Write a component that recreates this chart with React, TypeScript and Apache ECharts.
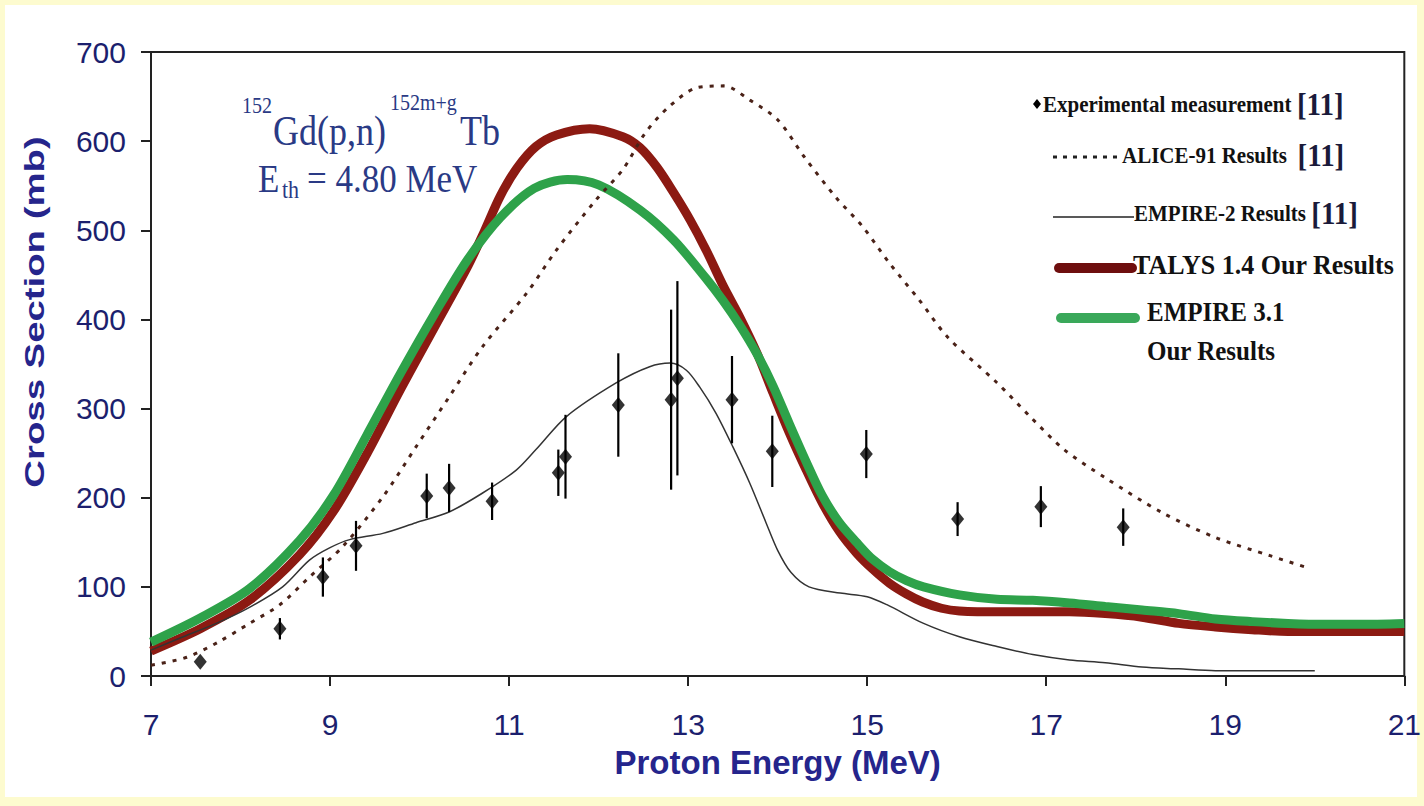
import React, { useEffect, useRef } from "react";
import * as echarts from "echarts";

// ---- axis settings ----
const xMin = 7;
const xMax = 21;
const xStep = 2;
const yMin = 0;
const yMax = 700;
const yStep = 100;

// ---- experimental measurement [11] ----
const expEnergy = [7.55, 8.44, 8.92, 9.29, 10.08, 10.33, 10.81, 11.55, 11.63, 12.22, 12.81, 12.88, 13.49, 13.94, 14.99, 16.01, 16.94, 17.86];
const expSigma = [16, 53, 111, 146, 202, 211, 196, 228, 246, 304, 310, 334, 310, 252, 249, 176, 190, 167];
const expError = [0, 12, 22, 28, 25, 27, 21, 26, 47, 58, 101, 109, 49, 40, 27, 19, 23, 21];

// ---- ALICE-91 results [11] ----
const aliceCurve: [number, number][] = [
  [7.0, 12], [7.4, 21], [7.75, 38], [8.1, 59], [8.44, 80], [8.77, 111], [9.14, 145], [9.59, 201],
  [9.96, 257], [10.33, 313], [10.7, 369], [11.2, 430], [11.53, 478], [11.97, 534], [12.27, 568],
  [12.52, 609], [12.78, 638], [13.1, 660], [13.4, 662], [13.69, 646], [14.0, 624], [14.3, 582],
  [14.65, 537], [14.95, 504], [15.25, 463], [15.58, 422], [15.9, 380], [16.45, 329], [16.82, 291],
  [17.2, 254], [17.65, 223], [18.3, 183], [18.9, 155], [19.5, 135], [19.9, 122],
];

// ---- EMPIRE-2 results [11] ----
const empire2Curve: [number, number][] = [
  [7.0, 29], [7.36, 44], [7.73, 59], [8.1, 77], [8.47, 100], [8.77, 130], [9.0, 144], [9.22, 153],
  [9.59, 160], [9.96, 172], [10.33, 184], [10.7, 205], [11.08, 231], [11.3, 254], [11.64, 291],
  [12.2, 329], [12.57, 347], [12.8, 351], [12.98, 343], [13.13, 324], [13.31, 295], [13.5, 257],
  [13.69, 216], [13.87, 172], [14.0, 141], [14.15, 116], [14.35, 100], [14.7, 93], [15.0, 89],
  [15.22, 80], [15.63, 59], [16.03, 44], [16.45, 33], [16.85, 24], [17.26, 18], [17.66, 15],
  [18.07, 10], [18.48, 8], [18.89, 6], [20.0, 6],
];

// ---- TALYS 1.4 (our results) ----
const talysCurve: [number, number][] = [
  [7.0, 28], [7.55, 53], [8.1, 85], [8.66, 136], [9.04, 185], [9.41, 249], [9.79, 322], [10.16, 390],
  [10.53, 458], [10.72, 498], [10.9, 538], [11.09, 570], [11.3, 594], [11.53, 607], [11.9, 614],
  [12.27, 605], [12.46, 593], [12.65, 571], [12.84, 542], [13.02, 512], [13.2, 478], [13.39, 438],
  [13.58, 402], [13.77, 362], [13.95, 317], [14.13, 273], [14.32, 231], [14.5, 194], [14.69, 162],
  [14.88, 138], [15.06, 120], [15.25, 104], [15.44, 92], [15.62, 83], [15.83, 76], [16.03, 73],
  [16.5, 72], [17.26, 72], [17.66, 70], [18.07, 66], [18.48, 59], [18.89, 55], [19.3, 52],
  [19.7, 50], [20.5, 50], [21.0, 50],
];

// ---- EMPIRE 3.1 (our results) ----
const empire31Curve: [number, number][] = [
  [7.0, 38], [7.55, 65], [8.1, 98], [8.66, 152], [9.04, 203], [9.41, 270], [9.79, 340], [10.16, 405],
  [10.53, 466], [10.9, 514], [11.28, 547], [11.65, 557], [12.0, 551], [12.46, 523], [12.84, 489],
  [13.2, 446], [13.39, 421], [13.58, 393], [13.77, 361], [13.95, 325], [14.13, 283], [14.32, 240],
  [14.5, 202], [14.69, 172], [14.88, 150], [15.06, 131], [15.25, 117], [15.44, 107], [15.63, 100],
  [16.03, 91], [16.45, 86], [16.85, 85], [17.26, 82], [17.66, 78], [18.07, 74], [18.48, 70],
  [18.89, 64], [19.3, 61], [19.7, 59], [20.1, 58], [20.5, 58], [21.0, 59],
];

const NAVY = "#1c1f6e";
const TITLE_NAVY = "#25258c";
const ANNOT = "#2a3a85";
const RED = "#8c1a12";
const GREEN = "#2ea24a";
const SERIF = "'Liberation Serif', 'Times New Roman', serif";
const SANS = "'Liberation Sans', Arial, sans-serif";

export default function App() {
  const ref = useRef<HTMLDivElement>(null);

  useEffect(() => {
    document.body.style.margin = "0";
    if (!ref.current) return;
    const chart = echarts.init(ref.current, undefined, { renderer: "svg" });

    const expData = expEnergy.map((e, i) => [e, expSigma[i]]);
    const errData = expEnergy.map((e, i) => [e, expSigma[i], expError[i]]);

    const legendText = (x: number, y: number, parts: string, fontSize: number, sy: number) => ({
      type: "text",
      x,
      y,
      scaleY: sy,
      silent: true,
      style: {
        text: parts,
        textVerticalAlign: "middle",
        textAlign: "left",
        fill: "#111",
        rich: {
          a: { fontFamily: SERIF, fontWeight: "bold", fontSize, fill: "#111" },
          b: { fontFamily: SERIF, fontWeight: "bold", fontSize: 29, fill: "#1a1a3a" },
        },
      },
    });

    const annot = (x: number, y: number, text: string, size: number) => ({
      type: "text",
      x,
      y,
      scaleY: 1.15,
      silent: true,
      style: { text, font: `${size}px ${SERIF}`, fill: ANNOT, textVerticalAlign: "middle", textAlign: "left" },
    });

    const option: any = {
      animation: false,
      backgroundColor: "transparent",
      grid: {
        left: 151,
        right: 19,
        top: 52,
        bottom: 130,
        show: true,
        borderColor: "#222",
        borderWidth: 2,
        backgroundColor: "transparent",
      },
      xAxis: {
        type: "value",
        min: xMin,
        max: xMax,
        interval: xStep,
        name: "Proton Energy (MeV)",
        nameLocation: "middle",
        nameGap: 70,
        nameTextStyle: { fontFamily: SANS, fontWeight: "bold", fontSize: 33, color: TITLE_NAVY },
        axisLine: { show: true, onZero: false, lineStyle: { color: "#222", width: 2 } },
        axisTick: { show: true, inside: false, length: 10, lineStyle: { color: "#222", width: 2 } },
        axisLabel: { fontFamily: SANS, fontSize: 30, color: NAVY, margin: 33 },
        splitLine: { show: false },
      },
      yAxis: {
        type: "value",
        min: yMin,
        max: yMax,
        interval: yStep,
        axisLine: { show: true, onZero: false, lineStyle: { color: "#222", width: 2 } },
        axisTick: { show: true, inside: false, length: 10, lineStyle: { color: "#222", width: 2 } },
        axisLabel: { fontFamily: SANS, fontSize: 30, color: NAVY, margin: 25 },
        splitLine: { show: false },
      },
      series: [
        {
          name: "TALYS 1.4 Our Results",
          type: "line",
          data: talysCurve,
          smooth: 0.3,
          showSymbol: false,
          lineStyle: { color: RED, width: 9 },
          z: 2,
        },
        {
          name: "EMPIRE 3.1 Our Results",
          type: "line",
          data: empire31Curve,
          smooth: 0.3,
          showSymbol: false,
          lineStyle: { color: GREEN, width: 9 },
          z: 3,
        },
        {
          name: "ALICE-91 Results [11]",
          type: "line",
          data: aliceCurve,
          smooth: 0.3,
          showSymbol: false,
          lineStyle: { color: "#4a2218", width: 3, type: [4, 7] },
          z: 4,
        },
        {
          name: "EMPIRE-2 Results [11]",
          type: "line",
          data: empire2Curve,
          smooth: 0.3,
          showSymbol: false,
          lineStyle: { color: "#333", width: 1.5 },
          z: 5,
        },
        {
          name: "error",
          type: "custom",
          data: errData,
          z: 6,
          renderItem: (params: any, api: any) => {
            const x = api.value(0);
            const y = api.value(1);
            const e = api.value(2);
            const p1 = api.coord([x, y - e]);
            const p2 = api.coord([x, y + e]);
            return {
              type: "line",
              shape: { x1: p1[0], y1: p1[1], x2: p2[0], y2: p2[1] },
              style: { stroke: "#000", lineWidth: 2.2 },
            };
          },
        },
        {
          name: "Experimental measurement [11]",
          type: "scatter",
          data: expData,
          symbol: "diamond",
          symbolSize: [13, 16],
          itemStyle: { color: "#000" },
          z: 7,
        },
      ],
      graphic: [
        // y-axis title
        {
          type: "text",
          x: 35,
          y: 312,
          rotation: Math.PI / 2,
          scaleX: 1.42,
          silent: true,
          style: {
            text: "Cross Section (mb)",
            font: `bold 27px ${SANS}`,
            fill: TITLE_NAVY,
            textAlign: "center",
            textVerticalAlign: "middle",
          },
        },
        // reaction annotation
        annot(242, 106, "152", 20),
        annot(273, 131, "Gd(p,n)", 36),
        annot(390, 103, "152m+g", 20),
        annot(460, 131, "Tb", 36),
        annot(258, 178, "E", 35),
        annot(282, 189, "th", 22),
        annot(307, 178, "= 4.80 MeV", 35),
        // legend
        {
          type: "polygon",
          silent: true,
          shape: { points: [[1037, 99], [1041, 104], [1037, 109], [1033, 104]] },
          style: { fill: "#000" },
        },
        legendText(1043, 104, "{a|Experimental measurement }{b|[11]}", 21, 1.12),
        {
          type: "line",
          silent: true,
          shape: { x1: 1053, y1: 157, x2: 1121, y2: 157 },
          style: { stroke: "#222", lineWidth: 3, lineDash: [4, 6] },
        },
        legendText(1122, 155, "{a|ALICE-91 Results  }{b|[11]}", 21, 1.12),
        {
          type: "line",
          silent: true,
          shape: { x1: 1053, y1: 217, x2: 1134, y2: 217 },
          style: { stroke: "#222", lineWidth: 1.5 },
        },
        legendText(1134, 213, "{a|EMPIRE-2 Results }{b|[11]}", 21, 1.12),
        {
          type: "line",
          silent: true,
          shape: { x1: 1059, y1: 268, x2: 1132, y2: 268 },
          style: { stroke: "#6e0e0e", lineWidth: 10, lineCap: "round" },
        },
        legendText(1133, 265, "{a|TALYS 1.4 Our Results}", 26, 1.05),
        {
          type: "line",
          silent: true,
          shape: { x1: 1061, y1: 318, x2: 1135, y2: 318 },
          style: { stroke: "#3aa85a", lineWidth: 10, lineCap: "round" },
        },
        legendText(1147, 312, "{a|EMPIRE 3.1}", 25, 1.05),
        legendText(1147, 351, "{a|Our Results}", 25, 1.05),
      ],
    };

    chart.setOption(option);
    return () => {
      chart.dispose();
    };
  }, []);

  return (
    <div style={{ position: "fixed", left: 0, top: 0, width: 1424, height: 806, background: "#fdfbcf" }}>
      <div style={{ position: "absolute", left: 5, top: 5, width: 1412, height: 792, background: "#ffffff" }} />
      <div ref={ref} style={{ position: "absolute", left: 0, top: 0, width: 1424, height: 806 }} />
    </div>
  );
}
